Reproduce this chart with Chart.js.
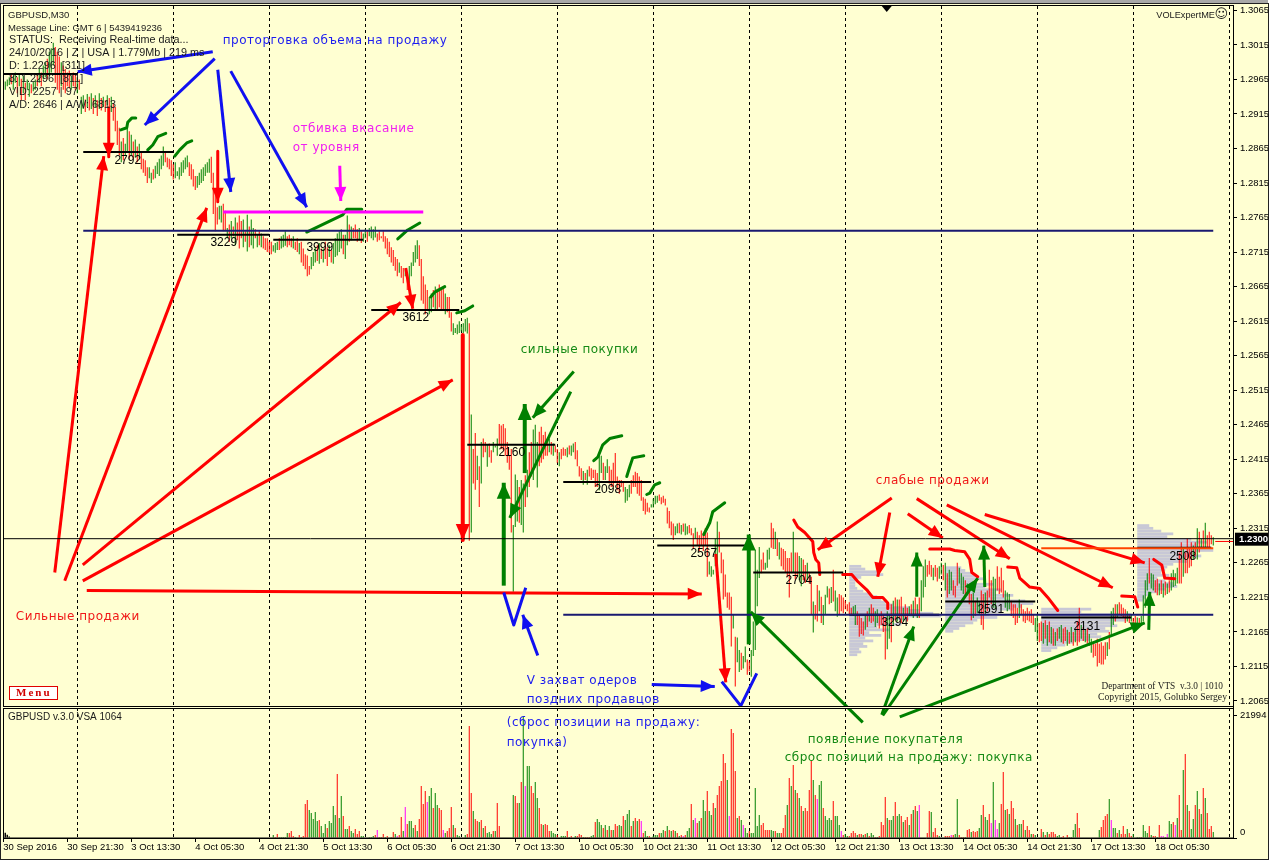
<!DOCTYPE html>
<html><head><meta charset="utf-8">
<style>html,body{margin:0;background:#fff}canvas{display:block}</style>
<script src="https://cdn.jsdelivr.net/npm/chart.js@4"></script>
</head><body><canvas id="c" width="1273" height="861"></canvas>
<script>
// GBPUSD M30 bars, one row = 16 bars, prices in pips (12345 = 1.2345)
const highs = [
12960,12962,12965,12968,12972,12970,12975,12968,12972,12966,12970,12960,12965,12960,12958,12962,
12965,12972,12980,12975,12985,12990,12995,13005,13010,13018,13012,13005,12998,12990,12985,12980,
12975,12978,12970,12975,12972,12968,12965,12940,12942,12936,12944,12940,12945,12938,12942,12935,
12945,12938,12940,12935,12942,12938,12940,12930,12925,12905,12895,12875,12880,12872,12898,12890,
12885,12875,12878,12868,12872,12860,12850,12848,12838,12838,12830,12835,12840,12845,12850,12855,
12868,12860,12852,12850,12848,12842,12845,12832,12838,12845,12848,12852,12855,12845,12842,12835,
12825,12825,12830,12835,12838,12842,12845,12850,12853,12830,12800,12780,12782,12782,12785,12775,
12750,12755,12760,12752,12765,12758,12768,12760,12762,12745,12769,12752,12762,12750,12748,12740,
12745,12742,12738,12735,12735,12730,12730,12725,12728,12730,12735,12738,12740,12745,12738,12740,
12735,12738,12730,12735,12728,12730,12720,12712,12710,12695,12708,12715,12722,12725,12728,12720,
12720,12730,12722,12725,12718,12728,12735,12742,12745,12748,12740,12740,12768,12755,12752,12750,
12755,12748,12750,12745,12742,12748,12745,12750,12752,12748,12752,12742,12745,12738,12745,12738,
12735,12730,12722,12718,12708,12705,12700,12695,12692,12690,12680,12695,12700,12715,12725,12732,
12725,12705,12680,12668,12660,12650,12655,12660,12665,12662,12668,12660,12665,12655,12650,12650,
12628,12612,12605,12610,12615,12610,12612,12618,12620,12612,12480,12430,12453,12420,12405,12440,
12445,12440,12436,12438,12428,12440,12435,12445,12466,12464,12466,12460,12440,12420,12430,12320,
12393,12385,12375,12385,12380,12392,12400,12425,12440,12458,12465,12440,12455,12462,12450,12455,
12440,12445,12440,12438,12435,12430,12425,12430,12432,12430,12432,12435,12435,12438,12440,12428,
12405,12402,12398,12395,12400,12405,12402,12400,12400,12395,12425,12420,12410,12405,12415,12405,
12400,12410,12424,12390,12385,12385,12382,12375,12372,12378,12385,12392,12397,12395,12390,12385,
12360,12358,12352,12345,12350,12358,12362,12362,12364,12360,12362,12358,12345,12340,12325,12322,
12318,12322,12323,12320,12322,12322,12318,12320,12315,12308,12316,12310,12305,12312,12308,12315,
12309,12267,12260,12255,12300,12325,12310,12280,12270,12248,12222,12222,12216,12190,12158,12157,
12139,12135,12130,12144,12125,12122,12139,12180,12284,12255,12288,12270,12280,12265,12284,12287,
12323,12315,12310,12300,12295,12287,12285,12282,12272,12272,12280,12310,12280,12280,12275,12272,
12270,12262,12265,12250,12245,12209,12204,12233,12225,12216,12204,12219,12231,12228,12230,12255,
12225,12215,12220,12218,12215,12210,12205,12208,12200,12202,12204,12195,12190,12185,12180,12190,
12195,12200,12205,12200,12195,12198,12190,12195,12190,12185,12195,12190,12205,12210,12215,12212,
12212,12216,12200,12205,12200,12202,12205,12210,12215,12205,12215,12240,12260,12270,12262,12268,
12262,12258,12262,12258,12260,12265,12262,12265,12250,12255,12252,12240,12232,12265,12258,12250,
12245,12240,12235,12230,12220,12222,12210,12215,12208,12225,12220,12222,12225,12255,12240,12245,
12242,12260,12245,12258,12240,12225,12222,12220,12210,12205,12205,12200,12212,12205,12198,12195,
12200,12195,12198,12190,12185,12190,12178,12180,12178,12182,12175,12180,12172,12170,12165,12170,
12172,12175,12170,12172,12168,12165,12172,12165,12168,12180,12200,12175,12172,12168,12170,12162,
12155,12150,12148,12155,12148,12150,12145,12150,12150,12165,12195,12200,12205,12205,12208,12205,
12200,12198,12195,12190,12190,12185,12188,12186,12185,12188,12218,12240,12250,12272,12250,12248,
12240,12242,12235,12240,12235,12238,12235,12240,12250,12255,12250,12258,12280,12295,12285,12280,
12300,12285,12295,12290,12295,12315,12310,12300,12312,12323,12305,12310,12305,12302];
const lows = [
12952,12950,12955,12957,12958,12950,12960,12945,12955,12935,12945,12935,12950,12940,12945,12948,
12950,12955,12960,12955,12965,12968,12965,12970,12975,12985,12960,12950,12945,12955,12950,12945,
12955,12952,12950,12955,12950,12945,12950,12915,12922,12918,12925,12920,12922,12915,12925,12912,
12922,12920,12925,12918,12928,12922,12918,12905,12890,12870,12855,12845,12848,12855,12860,12850,
12855,12850,12852,12845,12850,12835,12830,12825,12815,12822,12815,12820,12822,12828,12825,12835,
12840,12845,12838,12835,12825,12820,12822,12825,12820,12825,12830,12835,12838,12825,12820,12810,
12805,12808,12812,12815,12818,12825,12830,12830,12815,12770,12745,12755,12762,12758,12745,12745,
12735,12730,12735,12738,12725,12732,12720,12735,12722,12730,12716,12722,12725,12720,12735,12722,
12725,12722,12720,12718,12715,12714,12712,12716,12714,12718,12718,12720,12722,12724,12722,12725,
12722,12720,12718,12715,12712,12700,12695,12690,12680,12682,12690,12695,12700,12702,12698,12705,
12700,12705,12695,12708,12700,12698,12708,12710,12715,12720,12712,12705,12725,12730,12732,12735,
12735,12730,12732,12728,12730,12735,12730,12738,12735,12732,12736,12730,12732,12735,12730,12720,
12712,12708,12700,12695,12688,12680,12685,12678,12670,12680,12660,12670,12680,12695,12700,12705,
12695,12645,12640,12625,12632,12625,12628,12635,12632,12630,12635,12630,12632,12625,12628,12620,
12600,12595,12598,12596,12598,12600,12598,12600,12597,12297,12309,12380,12371,12385,12346,12380,
12418,12425,12404,12418,12410,12425,12432,12420,12435,12430,12428,12420,12410,12400,12309,12223,
12317,12325,12323,12320,12309,12346,12360,12375,12390,12385,12403,12374,12405,12410,12415,12420,
12420,12425,12422,12420,12425,12410,12405,12415,12420,12420,12418,12422,12420,12425,12415,12405,
12390,12385,12378,12385,12378,12390,12385,12388,12375,12375,12370,12395,12385,12385,12395,12380,
12375,12375,12382,12370,12365,12375,12368,12352,12355,12360,12365,12375,12375,12365,12362,12355,
12340,12335,12339,12338,12345,12345,12350,12352,12355,12350,12352,12348,12322,12315,12305,12298,
12305,12308,12308,12306,12310,12305,12306,12308,12305,12285,12300,12290,12282,12290,12282,12290,
12245,12248,12245,12248,12260,12255,12280,12250,12212,12216,12200,12197,12144,12170,12086,12121,
12107,12110,12112,12121,12103,12108,12100,12130,12139,12202,12243,12250,12255,12255,12258,12270,
12287,12285,12285,12275,12270,12260,12255,12251,12245,12215,12250,12251,12241,12245,12240,12231,
12240,12236,12240,12235,12190,12164,12183,12180,12195,12178,12175,12190,12215,12205,12207,12209,
12195,12187,12190,12195,12192,12198,12195,12190,12190,12188,12175,12175,12158,12162,12160,12168,
12172,12180,12178,12180,12172,12178,12170,12175,12165,12125,12140,12155,12150,12175,12182,12180,
12185,12178,12180,12185,12180,12188,12190,12185,12190,12185,12185,12195,12215,12230,12245,12248,
12245,12240,12245,12238,12242,12248,12240,12225,12215,12220,12225,12218,12215,12232,12235,12225,
12220,12215,12218,12205,12182,12185,12188,12192,12190,12175,12168,12190,12195,12215,12205,12200,
12198,12225,12220,12222,12215,12200,12195,12198,12188,12185,12175,12178,12185,12190,12180,12178,
12182,12180,12178,12175,12165,12152,12150,12152,12148,12155,12145,12150,12148,12145,12145,12152,
12155,12150,12148,12152,12145,12148,12150,12145,12150,12145,12150,12155,12152,12150,12148,12145,
12135,12128,12130,12115,12120,12118,12118,12125,12130,12140,12160,12175,12180,12185,12190,12188,
12185,12178,12180,12178,12180,12172,12175,12172,12175,12175,12180,12200,12225,12235,12228,12225,
12222,12218,12218,12220,12215,12218,12220,12222,12225,12230,12232,12235,12235,12235,12245,12250,
12250,12258,12260,12270,12275,12270,12280,12285,12285,12288,12288,12288,12292,12290];
const barColours = [
"ggggrggrgrgrggrg","grgrggrgggrrrgrr","rrgrrgrggrgrgrgr","grgrgrgrrrrgrggr",
"grgrgrrrrggrgggg","grrrrrgggggggrrr","rgggggggrrrrggrr","grgrgrrrgrgrggrg",
"rgrrrrrgggrgggrr","rgrrgrrrrrgggrgr","grrgrgggggrggrgr","rrgrggrggggrrrrr",
"rrrrrrgrrgrggggg","rrrrrggrgrrrrgrr","rggggggggrgrrgrg","rrgrrgggrrrrrrrg",
"ggrggrgrrgggrrrr","rgrgrrgrrrgrggrr","rrgrgrrrrrggrggr","rrrrrrrgggrrrrrr",
"rrrrggggrrrrrrrr","ggrgrggrrrgrrrrr","rgggggrrrrrrrgrg","grggrrgggggrrggg",
"rrgrgrrrrrrgrrgg","rrgrrgrrgrgggrgr","ggrrrrrrrggrrrrg","rgrrggrrrrggrgrg",
"rrgrrgrgrgrgggrr","rgrrggrgrggrrrgg","grgrrgrggrrgrrrg","grrrrgggrrrrgrrr",
"rrrrggrrgrgrgrgr","ggrrgrgrgrrgrgrg","grrrrrrrgrggrgrr","rrgrgrrgrggggrgg",
"rrgrgrgrggggrrgr","rrrgrgrgrgrrrg"];
const volumeStartBar = 135;
const volumeUnit = 180;
const volumes = [
3,1,4,1,1,1,1,5,5,7, 2,1,0,3,1,2,34,38,28,25, 19,26,17,18,12,5,14,10,17,15, 32,23,64,20,42,22,9,9,12,7,
5,9,4,7,2,2,0,0,1,1, 2,3,8,1,1,4,1,2,0,1, 6,4,2,3,21,7,31,14,17,17, 10,13,7,19,52,34,47,36,42,50,
30,45,33,30,28,8,5,7,10,31, 13,10,3,2,0,0,3,4,112,45, 27,19,17,16,18,10,12,5,6,4, 7,7,35,12,0,0,0,0,0,0,
43,42,35,35,56,122,52,72,72,52, 45,56,40,30,14,13,14,13,7,7, 5,4,3,0,2,2,2,7,1,2, 0,2,2,4,3,1,1,1,1,2,
3,16,19,16,13,10,13,8,12,8, 8,14,12,13,12,22,18,24,28,12, 17,20,17,19,17,5,7,2,2,0, 2,3,3,5,5,8,7,12,8,7,
8,7,5,2,3,2,3,7,10,34, 18,20,15,17,20,38,27,47,27,23, 35,30,43,52,57,84,75,58,22,109, 105,67,20,22,18,13,10,5,7,5,
5,50,12,23,13,15,8,8,8,8, 7,7,5,5,5,10,23,33,60,52, 73,48,45,40,32,27,30,27,48,77, 58,43,39,53,57,30,22,18,20,18,
37,22,22,13,7,3,4,2,2,5, 7,5,3,4,4,3,4,5,2,5, 3,1,1,2,16,13,41,20,18,18, 22,36,22,24,22,16,18,21,13,24,
28,32,27,33,0,0,0,5,27,26, 6,10,3,2,0,0,2,2,2,3, 3,4,39,3,1,1,1,8,9,6, 7,6,7,10,23,33,21,18,24,15,
56,18,9,15,34,66,28,29,24,37, 30,19,13,14,14,18,8,12,8,4, 4,3,0,0,9,6,3,6,4,6, 6,4,2,3,1,2,0,3,1,1,
8,14,25,10,0,0,0,0,0,0, 0,0,0,8,11,18,22,24,39,18, 10,10,5,8,4,12,4,9,5,2, 4,0,1,1,1,13,7,5,12,3,
2,2,1,13,2,2,1,4,17,14, 16,13,20,43,8,68,84,33,27,9, 19,33,47,29,24,50,40,25,9,12, 6];
const volumeColours = [
"grrgggggrr","rggrgrrrgg","gggrgggrgg","ggrggrggrg",
"grrrgggggg","grmrrrgrgr","rgmrrgmrgg","grgrrrrmgg",
"rggrrmgrrr","grgggggrrr","grrgrgrggg","rgrrgggggg",
"grrgrgmggr","rggrrgrrrg","ggrggggrgr","ggrrrgrrrg",
"grgggrgrgr","grrggrgggr","grgrmrggrg","gggrggrgrg",
"rgrgrmrggr","gmrgrggrgg","rgrrrrrgmr","rrgrgmggrg",
"ggggrrrrrg","grggrrrgrg","rgrgrgrrrr","grmggrgggg",
"rgggmrggrr","rrgrrgrgrg","grgrrrrgrg","grggrgrrgr",
"grgmgggrrg","rrrgggrrrm","rggrrrgrrg","rrrggrggrm",
"gmmgrrgrgr","rgrggrgrrg","rgggrgrgrr","rrggrrgrgg",
"ggrrgggggg","ggggrrrrgm","ggrgrrrgrr","ggggrgggrg",
"rrgrmmgmgg","rmgrrgrgrg","grgrgrgrrr","g"];
const earlyVolumes = [34,26,16,8];
// Tick labels
const priceTicks = [12065,12115,12165,12215,12265,12315,12365,12415,12465,12515,12565,12615,12665,12715,12765,12815,12865,12915,12965,13015,13065];
const volumeTicks = [21994,0];
const timeTickBars = [0,32,64,96,128,160,192,224,256,288,320,352,384,416,448,480,512,544,576];
const timeLabels = ["30 Sep 2016","30 Sep 21:30","3 Oct 13:30","4 Oct 05:30","4 Oct 21:30","5 Oct 13:30","6 Oct 05:30","6 Oct 21:30","7 Oct 13:30","10 Oct 05:30","10 Oct 21:30","11 Oct 13:30","12 Oct 05:30","12 Oct 21:30","13 Oct 13:30","14 Oct 05:30","14 Oct 21:30","17 Oct 13:30","18 Oct 05:30"];
const daySeparatorBars = [37.25,85.25,133.25,181.25,229.25,277.25,325.25,373.25,421.25,469.25,517.25,565.25,613.25];
// Level segments: first bar, last bar, price
const dayLevels = [[0,37,12973],[40,85,12860],[87,133,12740],[135,180,12733],[184,228,12631],[232,276,12436],[280,324,12382],[327,372,12290],[375,420,12251],[423,468,12190],[471,516,12209],[519,564,12186],[567,604,12287]];
const dayVolumes = [["2792",62.25,12848],["3229",110.25,12728],["3999",158.25,12721],["3612",206.25,12620],["2160",254.25,12424],["2098",302.25,12371],["2567",350.25,12278],["2704",397.75,12239],["3294",445.75,12178],["2591",493.75,12197],["2131",541.75,12173],["2508",589.75,12274]];
const navyLevels = [[40,605,12746],[280,605,12190]];
const magentaLevel = [110,210,12773];
const orangeLevel = [519,605,12286];
const bidPrice = 12300;
const askMarker = [606,615,12296];
// Arrows: from bar, from price, to bar, to price, width
const blueArrows = [[104.75,13005,37.25,12976,3],[105.75,12995,70.75,12899,3],[107.25,12979,113.75,12802,3],[113.75,12977,151.75,12780,3],[267.25,12131,259.75,12190,3],[324.25,12089,355.75,12086,3]];
const redArrows = [[25.75,12251,50.25,12854,3],[30.75,12239,101.75,12779,3],[39.75,12262,198.75,12642,3],[39.75,12239,224.75,12530,3],[41.75,12225,349.25,12220,3],[52.75,12924,52.75,12853,3],[107.25,12861,107.25,12788,3],[201.25,12692,204.75,12633,3],[229.75,12595,229.75,12298,4],[356.25,12278,361.25,12092,3],[444.25,12359,407.25,12284,3],[443.25,12338,437.25,12245,3],[452.25,12336,469.75,12301,3],[456.75,12358,503.25,12271,3],[471.75,12349,554.75,12229,3],[490.75,12335,570.75,12265,3]];
const greenArrows = [[250.25,12232,250.25,12381,4],[260.75,12395,260.75,12495,4],[285.25,12542,264.75,12475,3],[283.75,12513,253.25,12330,3],[372.75,12147,372.75,12306,4],[429.75,12034,373.75,12194,3],[439.25,12045,455.25,12173,3],[439.75,12044,487.25,12243,3],[448.25,12042,570.75,12178,3],[456.75,12216,456.75,12280,3],[490.75,12230,490.25,12290,3],[572.75,12168,573.25,12223,3]];
const magentaArrows = [[168.25,12840,168.75,12789,3]];
// Hand-drawn marks: bar, price, bar, price ...
const blueTicks = [[250.25,12222,255.25,12175,261.25,12229],[359.25,12093,368.75,12058,376.75,12105]];
const redCurves = [
[395.25,12327,397.25,12317,400.75,12309,404.75,12296,405.25,12280,406.25,12270,407.75,12265,408.25,12248],
[419.75,12248,424.25,12248,427.25,12238,431.75,12226,434.75,12215,439.75,12215,442.25,12207,442.25,12199],
[463.25,12285,473.25,12285,475.75,12283,480.75,12281,483.25,12270,484.25,12251,487.25,12245],
[502.25,12259,506.75,12258,508.25,12243,513.25,12230,518.25,12228,522.25,12215,527.25,12196],
[559.25,12217,565.75,12216,567.25,12201],
[575.25,12270,579.25,12262,580.75,12243,585.75,12242]];
const greenCurves = [
[58.75,12892,61.75,12895,62.25,12903,64.25,12909,66.25,12909],
[72.25,12863,74.75,12870,77.25,12882,81.25,12887],
[85.75,12854,88.25,12863,91.75,12873,94.25,12876],
[151.75,12744,169.75,12769,171.75,12777,179.25,12777],
[197.25,12734,202.25,12747,208.25,12757],
[213.75,12650,215.75,12657,220.75,12665],
[226.75,12627,230.75,12630,234.75,12637],
[295.25,12413,297.25,12418,299.75,12436,303.25,12445,309.25,12449],
[311.75,12390,313.25,12404,314.75,12417,320.25,12420],
[321.75,12364,323.25,12366,325.75,12378,328.25,12381],
[350.25,12306,353.25,12323,354.75,12339,360.75,12352]];
// Session volume profiles: start bar, then price, width in bars
const profiles = [
[423,[12260,6],[12256,8],[12252,14],[12248,17],[12244,6],[12240,3],[12236,3],[12232,3],[12228,4],[12224,7],[12220,10],[12216,14],[12212,16],[12208,18],[12204,22],[12200,30],[12196,35],[12192,42],[12188,46],[12184,30],[12180,18],[12176,26],[12172,14],[12168,20],[12164,10],[12160,16],[12156,8],[12152,12],[12148,7],[12144,9],[12140,5],[12136,6],[12132,4]],
[471,[12258,8],[12254,10],[12250,13],[12246,16],[12242,20],[12238,14],[12234,24],[12230,20],[12226,28],[12222,25],[12218,34],[12214,30],[12210,40],[12206,44],[12202,38],[12198,34],[12194,28],[12190,22],[12186,26],[12182,16],[12178,14],[12174,10],[12170,7],[12166,4]],
[519,[12198,25],[12194,20],[12190,45],[12186,45],[12182,42],[12178,36],[12174,38],[12170,32],[12166,34],[12162,28],[12158,30],[12154,24],[12150,16],[12146,12],[12142,8],[12138,5]],
[567,[12319,6],[12315,8],[12311,12],[12307,18],[12303,15],[12299,27],[12295,35],[12291,30],[12287,37],[12283,38],[12279,28],[12275,32],[12271,24],[12267,25],[12263,18],[12259,15],[12255,14],[12251,12],[12247,16],[12243,10],[12239,14],[12235,18],[12231,20],[12227,14],[12223,10],[12219,6],[12215,4],[12211,3]]];
// Chart notes: text, bar, price
const blueNotes = [["проторговка объема на продажу",109.75,13021],["V захват одеров",261.75,12094],["поздних продавцов",261.75,12067],["(сброс позиции на продажу:",251.75,12034],["покупка)",251.75,12005]];
const magentaNotes = [["отбивка вкасание",144.75,12893],["от уровня",144.75,12866]];
const greenNotes = [["сильные покупки",258.75,12573],["появление покупателя",402.25,12008],["сброс позиций на продажу: покупка",390.75,11983]];
const redNotes = [["слабые продажи",436.25,12384],["Сильные продажи",6.25,12187]];
const statusLines = [["GBPUSD,M30",8,15,9.5],["Message Line: GMT 6 | 5439419236",8,28,9.5],["STATUS:  Receiving Real-time data...",9,40,10.8],["24/10/2016 | Z | USA | 1.779Mb | 219 ms",9,53,10.8],["D: 1.2296  [311]",9,66,10.8],["8: 1.2296  [811]",9,79,10.8],["V|D: 2257 | 97",9,92,10.8],["A/D: 2646 | A/W: 6813",9,105,10.8]];

const RED="#ff0000",GREEN="#008000",MAG="#ff00ff",BLUE="#1010f0",NAVY="#191970",BG="#ffffd2";
const P=v=>v/10000, colour={g:GREEN,r:RED,m:MAG};
const barCol=barColours.join("").split("").map(c=>colour[c]);
const volCol=volumeColours.join("").split("").map(c=>colour[c]);
const pairs=a=>{const o=[];for(let i=0;i<a.length;i+=2)o.push({x:a[i],y:P(a[i+1])});return o};
const line=(data,color,w,extra)=>Object.assign({type:"line",data,borderColor:color,backgroundColor:color,borderWidth:w,pointRadius:0,pointHoverRadius:0,tension:0,fill:false,clip:false,order:1,xAxisID:"x",yAxisID:"y",borderJoinStyle:"round",parsing:{xAxisKey:"x",yAxisKey:"y"}},extra||{});
const seg=(l,c,w)=>line([{x:l[0],y:P(l[2])},{x:l[1],y:P(l[2])}],c,w);
const barSet=(yAxisID,color,data,w)=>({type:"bar",order:10,grouped:false,maxBarThickness:w||1,borderWidth:0,inflateAmount:0,xAxisID:"x",yAxisID,backgroundColor:color,data});
const datasets=[
 barSet("y",barCol,highs.map((h,i)=>({x:i,y:[P(lows[i]),P(h)]}))),
 barSet("v",volCol,volumes.map((v,i)=>({x:volumeStartBar+i,y:v*volumeUnit}))),
 barSet("v","#000",earlyVolumes.map((v,i)=>({x:i,y:v*volumeUnit/5})),2),
 line([{x:-0.125,y:P(bidPrice)},{x:614.875,y:P(bidPrice)}],"#000",1),
 seg(askMarker,RED,1),
 ...navyLevels.map(l=>seg(l,NAVY,2)),
 seg(magentaLevel,MAG,3),
 seg(orangeLevel,"#ff4500",2),
 ...dayLevels.map(l=>seg(l,"#000",2)),
 ...blueTicks.map(c=>line(pairs(c),BLUE,3)),
 ...redCurves.map(c=>line(pairs(c),RED,3,{borderCapStyle:"round"})),
 ...greenCurves.map(c=>line(pairs(c),GREEN,3,{borderCapStyle:"round"})),
 ...blueArrows.map(a=>line(pairs(a.slice(0,4)),BLUE,a[4])),
 ...redArrows.map(a=>line(pairs(a.slice(0,4)),RED,a[4])),
 ...greenArrows.map(a=>line(pairs(a.slice(0,4)),GREEN,a[4])),
 ...magentaArrows.map(a=>line(pairs(a.slice(0,4)),MAG,a[4]))
];
const frame={id:"frame",
 beforeDraw(ch){const c=ch.ctx,a=ch.chartArea,W=ch.width,H=ch.height;c.save();
  c.fillStyle="#fff";c.fillRect(0,0,W,H);
  c.fillStyle="#a8a8a8";c.fillRect(0,0,1268,3);
  c.fillStyle=BG;c.fillRect(1,4,a.right+34,H-6);
  c.strokeStyle="#222";c.lineWidth=1;c.strokeRect(.5,3.5,a.right+35,H-5);
  c.restore()},
 beforeDatasetsDraw(ch){const c=ch.ctx,x=ch.scales.x,y=ch.scales.y,a=ch.chartArea;c.save();
  c.fillStyle="#c8c8d6";
  profiles.forEach(p=>{const s=p[0];p.slice(1).forEach(l=>{const x0=x.getPixelForValue(s),x1=x.getPixelForValue(s+l[1]),y0=y.getPixelForValue(P(l[0]+2)),y1=y.getPixelForValue(P(l[0]-2));c.fillRect(x0,y0,x1-x0,y1-y0)})});
  c.strokeStyle="#000";c.lineWidth=1;c.setLineDash([3,3]);
  daySeparatorBars.forEach(b=>{const px=Math.floor(x.getPixelForValue(b))+.5;c.beginPath();c.moveTo(px,a.top);c.lineTo(px,a.bottom);c.stroke()});
  c.restore()},
 afterDatasetsDraw(ch){const c=ch.ctx,x=ch.scales.x,y=ch.scales.y,a=ch.chartArea;c.save();
  const head=(r,col)=>{const x1=x.getPixelForValue(r[0]),y1=y.getPixelForValue(P(r[1])),x2=x.getPixelForValue(r[2]),y2=y.getPixelForValue(P(r[3])),t=Math.atan2(y2-y1,x2-x1),L=r[4]>3?16:14,W=r[4]>3?7:6;
   c.fillStyle=col;c.beginPath();c.moveTo(x2,y2);c.lineTo(x2-L*Math.cos(t)+W*Math.sin(t),y2-L*Math.sin(t)-W*Math.cos(t));c.lineTo(x2-L*Math.cos(t)-W*Math.sin(t),y2-L*Math.sin(t)+W*Math.cos(t));c.closePath();c.fill()};
  blueArrows.forEach(r=>head(r,BLUE));redArrows.forEach(r=>head(r,RED));greenArrows.forEach(r=>head(r,GREEN));magentaArrows.forEach(r=>head(r,MAG));
  c.textBaseline="middle";c.textAlign="center";c.fillStyle="#000";c.font="12px 'Liberation Sans'";
  dayVolumes.forEach(t=>c.fillText(t[0],x.getPixelForValue(t[1]),y.getPixelForValue(P(t[2]))));
  c.textAlign="left";c.font="12px 'DejaVu Sans'";c.letterSpacing="0.5px";
  const notes=(l,col)=>{c.fillStyle=col;l.forEach(t=>c.fillText(t[0],x.getPixelForValue(t[1]),y.getPixelForValue(P(t[2]))))};
  notes(blueNotes,"#1c1cf0");notes(magentaNotes,"#f020f0");notes(greenNotes,"#158a15");notes(redNotes,"#f01818");
  c.letterSpacing="0px";c.fillStyle="#1a1a1a";
  statusLines.forEach(s=>{c.font=s[3]+"px 'Liberation Sans'";c.fillText(s[0],a.left+s[1]-3,a.top+s[2]-6)});
  c.font="10px 'Liberation Sans'";c.fillText("GBPUSD v.3.0 VSA 1064",a.left+5,ch.scales.v.top+10);
  c.font="9.2px 'Liberation Sans'";c.textAlign="right";c.fillText("VOLExpertME",a.right-18,a.top+9);
  c.font="13px 'DejaVu Sans'";c.fillText("☺",a.right-5,a.top+9);
  c.font="9.3px 'Liberation Serif'";c.fillText("Department of VTS  v.3.0 | 1010",a.right-10,y.bottom-20);c.font="9.7px 'Liberation Serif'";c.fillText("Copyright 2015, Golubko Sergey",a.right-6,y.bottom-10);
  c.textAlign="left";
  c.fillStyle="#fff";c.fillRect(a.left+6,y.bottom-21,49,14);c.strokeStyle="#e00000";c.lineWidth=1;c.strokeRect(a.left+6.5,y.bottom-20.5,48,13);
  c.fillStyle="#d00000";c.font="bold 11px 'Liberation Serif'";c.letterSpacing="2px";c.fillText("Menu",a.left+13,y.bottom-14);c.letterSpacing="0px";
  c.fillStyle="#000";const tx=x.getPixelForValue(441.75);c.beginPath();c.moveTo(tx-5,a.top);c.lineTo(tx+5,a.top);c.lineTo(tx,a.top+6);c.closePath();c.fill();
  c.strokeStyle="#000";c.lineWidth=1;
  c.strokeRect(a.left+.5,a.top-.5,a.right-a.left,y.bottom-a.top);
  c.strokeRect(a.left+.5,ch.scales.v.top+1.5,a.right-a.left,a.bottom-ch.scales.v.top-1.5);
  c.fillStyle=BG;c.fillRect(a.left+1,y.bottom,a.right-a.left-1,1);
  const by=y.getPixelForValue(P(bidPrice));c.fillStyle="#000";c.fillRect(a.right+2,by-6,33,13);
  c.fillStyle="#fff";c.font="bold 9.5px 'Liberation Sans'";c.fillText("1.2300",a.right+6,by+.5);
  c.restore()}};
new Chart(document.getElementById("c"),{data:{datasets},plugins:[frame],options:{
 responsive:false,devicePixelRatio:1,animation:false,
 layout:{padding:{left:3,top:6,right:4,bottom:3}},
 plugins:{legend:{display:false},tooltip:{enabled:false}},
 events:[],
 scales:{
  x:{type:"linear",min:-0.125,max:614.875,offset:false,
   grid:{drawOnChartArea:false,offset:false,tickLength:4,color:"#000"},border:{color:"#000"},
   afterBuildTicks(s){s.ticks=timeTickBars.map(v=>({value:v}))},
   afterFit(s){s.height=20;s.paddingLeft=0;s.paddingRight=0},
   ticks:{autoSkip:false,maxRotation:0,align:"start",padding:0,color:"#000",font:{family:"Liberation Sans",size:9.5},callback:(v,i)=>timeLabels[i]}},
  y:{type:"linear",position:"right",stack:"panels",stackWeight:701,min:1.20563,max:1.30713,
   grid:{drawOnChartArea:false,tickLength:4,color:"#000"},border:{color:"#000"},
   afterBuildTicks(s){s.ticks=priceTicks.map(v=>({value:P(v)}))},
   afterFit(s){s.width=36;s.paddingTop=0;s.paddingBottom=0},
   ticks:{padding:3,color:"#000",font:{family:"Liberation Sans",size:9.5},autoSkip:false,callback:v=>v.toFixed(4)}},
  v:{type:"linear",position:"right",stack:"panels",stackWeight:131,min:0,max:23580,
   grid:{drawOnChartArea:false,tickLength:4,color:"#000"},border:{color:"#000"},
   afterBuildTicks(s){s.ticks=volumeTicks.map(v=>({value:v}))},
   afterFit(s){s.width=36;s.paddingTop=0;s.paddingBottom=0},
   ticks:{padding:3,color:"#000",font:{family:"Liberation Sans",size:9.5},autoSkip:false,callback:v=>v===0?["0",""]:String(v)}}
 }}});
</script></body></html>
